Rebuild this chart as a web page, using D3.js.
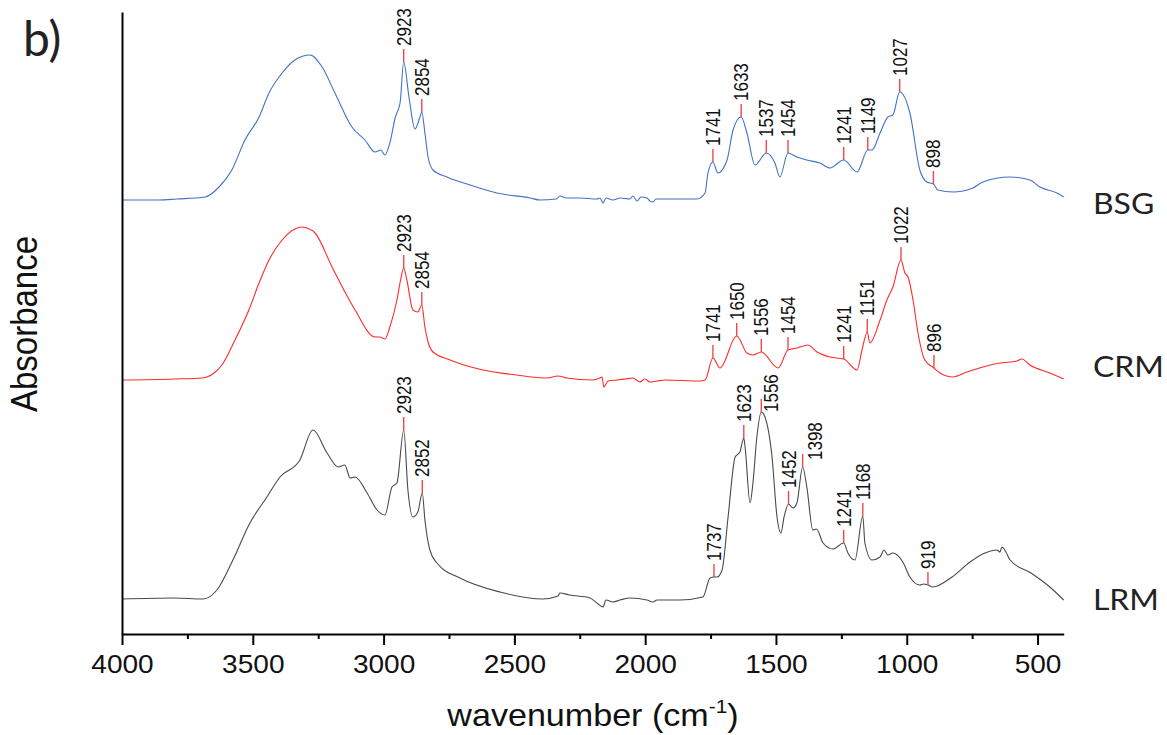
<!DOCTYPE html>
<html><head><meta charset="utf-8">
<script src="https://cdn.jsdelivr.net/npm/d3@7"></script>
<style>body{margin:0;background:#fff} svg{display:block}</style>
</head><body>
<svg id="chart" width="1167" height="735"></svg>
<script>
// ---------------- data ----------------
const seriesNames = ["BSG", "CRM", "LRM"];
const seriesOffsets = [4.34, 2.54, 0.35];
const seriesColors = ["#4271c6", "#ff2a2a", "#4a4a4a"];

const bsgWavenumber = [4000,3860,3790,3683,3629,3580,3530,3476,3438,3388,3339,3281,3235,3186,3121,3071,3033,3010,2995,2976,2955,2937,2923,2903,2880,2861,2854,2842,2830,2811,2758,2670,2567,2440,2402,2340,2326,2300,2249,2184,2173,2161,2150,2123,2096,2058,2047,2031,2016,1993,1982,1970,1959,1932,1802,1771,1760,1741,1722,1687,1664,1633,1611,1580,1537,1504,1485,1454,1420,1382,1332,1294,1241,1190,1149,1133,1102,1072,1053,1027,988,950,923,898,881,823,747,709,606,529,491,426,400];
const bsgAbsorbance = [0.00,0.00,0.01,0.03,0.13,0.30,0.60,0.83,1.07,1.27,1.40,1.45,1.33,1.07,0.73,0.60,0.48,0.50,0.45,0.57,0.83,0.97,1.38,1.03,0.71,0.83,0.88,0.67,0.43,0.30,0.23,0.15,0.07,0.02,0.00,0.01,0.04,0.02,0.02,0.01,0.02,-0.03,0.02,0.00,0.02,0.01,0.04,-0.01,0.03,0.02,-0.01,-0.02,0.01,0.01,0.01,0.07,0.27,0.38,0.27,0.40,0.70,0.83,0.67,0.35,0.47,0.37,0.23,0.47,0.43,0.40,0.37,0.32,0.40,0.28,0.50,0.50,0.67,0.83,0.85,1.08,0.87,0.30,0.18,0.16,0.10,0.08,0.12,0.18,0.23,0.20,0.13,0.07,0.03];

const crmWavenumber = [4000,3800,3694,3648,3618,3568,3515,3476,3438,3388,3339,3315,3293,3262,3197,3109,3033,3014,2995,2976,2949,2935,2923,2911,2888,2869,2854,2842,2830,2811,2746,2620,2490,2375,2333,2300,2200,2173,2165,2158,2142,2108,2077,2047,2020,2001,1982,1955,1924,1790,1771,1741,1714,1650,1611,1588,1556,1492,1454,1420,1378,1343,1294,1241,1190,1171,1151,1141,1102,1076,1053,1022,1007,995,976,957,931,896,873,823,770,709,644,579,560,529,453,400];
const crmAbsorbance = [0.00,0.01,0.02,0.07,0.15,0.40,0.70,0.97,1.20,1.40,1.51,1.53,1.52,1.47,1.13,0.70,0.43,0.43,0.41,0.53,0.80,1.00,1.12,1.00,0.70,0.68,0.75,0.53,0.38,0.28,0.20,0.10,0.05,0.02,0.04,0.02,0.00,0.02,0.03,-0.07,-0.01,0.00,0.01,0.02,-0.02,0.01,-0.02,-0.01,0.00,-0.01,0.00,0.22,0.12,0.44,0.27,0.25,0.28,0.12,0.30,0.32,0.35,0.28,0.23,0.21,0.10,0.30,0.48,0.37,0.60,0.80,0.93,1.20,1.07,1.03,0.80,0.47,0.20,0.12,0.07,0.03,0.08,0.13,0.17,0.19,0.21,0.15,0.07,0.01];

const lrmWavenumber = [4000,3800,3690,3637,3576,3511,3446,3396,3320,3270,3216,3174,3148,3128,3109,3063,3025,2995,2968,2949,2923,2907,2888,2869,2852,2842,2823,2796,2708,2555,2391,2333,2326,2290,2211,2180,2161,2150,2123,2096,2058,1993,1970,1955,1867,1779,1752,1737,1725,1706,1683,1656,1638,1623,1618,1599,1588,1573,1556,1542,1515,1496,1481,1469,1452,1435,1420,1398,1382,1359,1345,1320,1282,1241,1225,1198,1168,1160,1133,1102,1087,1072,1053,1015,988,950,936,919,900,827,758,701,655,644,636,621,605,525,453,400];
const lrmAbsorbance = [0.00,0.01,0.00,0.09,0.39,0.76,1.02,1.22,1.39,1.69,1.46,1.32,1.34,1.21,1.22,1.06,0.89,0.84,1.12,1.16,1.69,1.09,0.82,0.87,1.06,0.79,0.49,0.36,0.21,0.07,0.00,0.03,0.06,0.04,0.01,-0.05,-0.08,-0.01,-0.03,-0.01,0.01,-0.01,-0.03,-0.01,-0.01,0.02,0.21,0.22,0.22,0.29,0.82,1.42,1.47,1.61,1.52,0.96,1.16,1.62,1.87,1.82,1.42,0.82,0.66,0.82,0.95,0.91,0.96,1.32,1.12,0.69,0.70,0.56,0.50,0.56,0.46,0.39,0.83,0.56,0.39,0.42,0.49,0.44,0.46,0.37,0.22,0.14,0.15,0.14,0.12,0.22,0.37,0.46,0.49,0.47,0.52,0.47,0.39,0.26,0.12,-0.01];

const bsgPeaks = [2923, 2854, 1741, 1633, 1537, 1454, 1241, 1149, 1027, 898];
const crmPeaks = [2923, 2854, 1741, 1650, 1556, 1454, 1241, 1151, 1022, 896];
const lrmPeaks = [2923, 2852, 1737, 1623, 1556, 1452, 1398, 1241, 1168, 919];

const xTicks = [4000, 3500, 3000, 2500, 2000, 1500, 1000, 500];
const xMinorTicks = [3750, 3250, 2750, 2250, 1750, 1250, 750];

// ---------------- layout ----------------
const SX = 1.1; // horizontal text stretch of the original figure
const svg = d3.select("#chart");
const x = d3.scaleLinear().domain([4000, 400]).range([122, 1063.7]);
const y = d3.scaleLinear().domain([0, 6.22]).range([634, 12]);

const series = [
  {name: seriesNames[0], wn: bsgWavenumber, ab: bsgAbsorbance, peaks: bsgPeaks, off: seriesOffsets[0], color: seriesColors[0], labelY: 214},
  {name: seriesNames[1], wn: crmWavenumber, ab: crmAbsorbance, peaks: crmPeaks, off: seriesOffsets[1], color: seriesColors[1], labelY: 377},
  {name: seriesNames[2], wn: lrmWavenumber, ab: lrmAbsorbance, peaks: lrmPeaks, off: seriesOffsets[2], color: seriesColors[2], labelY: 610}
];
const labelNudge = {"LRM-1556": {dx: 10, dy: 16}, "LRM-1398": {dx: 12, dy: 9}};

const line = d3.line().curve(d3.curveMonotoneX);

function valueAt(s, w) {
  const i = s.wn.indexOf(w);
  if (i >= 0) return s.ab[i];
  for (let k = 0; k < s.wn.length - 1; k++) {
    if (s.wn[k] >= w && s.wn[k + 1] <= w) {
      const t = (s.wn[k] - w) / (s.wn[k] - s.wn[k + 1]);
      return s.ab[k] + t * (s.ab[k + 1] - s.ab[k]);
    }
  }
  return 0;
}

series.forEach(s => {
  const pts = s.wn.map((w, i) => [x(w), y(s.ab[i] + s.off)]);
  svg.append("path").attr("d", line(pts)).attr("fill", "none")
    .attr("stroke", s.color).attr("stroke-width", 1.1).attr("stroke-linejoin", "round");

  s.peaks.forEach(p => {
    const px = x(p), py = y(valueAt(s, p) + s.off);
    const nd = labelNudge[s.name + "-" + p] || {dx: 0, dy: 0};
    svg.append("line").attr("x1", px).attr("x2", px).attr("y1", py).attr("y2", py - 13)
      .attr("stroke", "#f04848").attr("stroke-width", 1.4);
    svg.append("text")
      .attr("transform", `translate(${px + nd.dx},${py - 16 + nd.dy}) scale(1.18,1) rotate(-90)`)
      .attr("text-anchor", "start").attr("dominant-baseline", "central")
      .attr("font-family", "Liberation Sans, Arial, sans-serif").attr("font-size", 17)
      .attr("fill", "#111").text(p);
  });

  svg.append("text").attr("transform", `translate(1093,${s.labelY}) scale(${SX},1)`)
    .attr("font-family", "Lato, sans-serif").attr("font-size", 29).attr("fill", "#222")
    .text(s.name);
});

// axes
const gx = svg.append("g").attr("transform", "translate(0,634)");
gx.call(d3.axisBottom(x).tickValues(xTicks).tickSize(11).tickSizeOuter(0).tickPadding(10).tickFormat(d3.format("d")));
gx.select(".domain").attr("stroke-width", 2);
gx.selectAll(".tick line").attr("stroke-width", 2);
gx.selectAll(".tick text")
  .attr("font-family", "Liberation Sans, Arial, sans-serif").attr("font-size", 25.5).attr("fill", "#111")
  .attr("transform", `scale(${SX},1)`);
const gm = svg.append("g").attr("transform", "translate(0,634)");
gm.call(d3.axisBottom(x).tickValues(xMinorTicks).tickSize(5).tickSizeOuter(0).tickFormat(""));
gm.select(".domain").remove();
gm.selectAll(".tick line").attr("stroke-width", 2);

const gy = svg.append("g").attr("transform", "translate(122,0)");
gy.call(d3.axisLeft(y).tickValues([]).tickSizeOuter(0));
gy.select(".domain").attr("stroke-width", 2);

// axis titles
const xt = svg.append("text").attr("transform", `translate(593,726) scale(${SX},1)`)
  .attr("text-anchor", "middle").attr("font-family", "Liberation Sans, Arial, sans-serif")
  .attr("font-size", 31).attr("fill", "#111");
xt.append("tspan").text("wavenumber (cm");
xt.append("tspan").attr("font-size", 19).attr("dy", -13).text("-1");
xt.append("tspan").attr("dy", 13).text(")");

svg.append("text").attr("transform", `translate(37,324) scale(${SX},1) rotate(-90)`)
  .attr("text-anchor", "middle").attr("font-family", "Liberation Sans, Arial, sans-serif")
  .attr("font-size", 33).attr("fill", "#111").text("Absorbance");

svg.append("text").attr("x", 23).attr("y", 56)
  .attr("font-family", "Lato, sans-serif").attr("font-size", 48).attr("fill", "#222").text("b)");
</script>
</body></html>
